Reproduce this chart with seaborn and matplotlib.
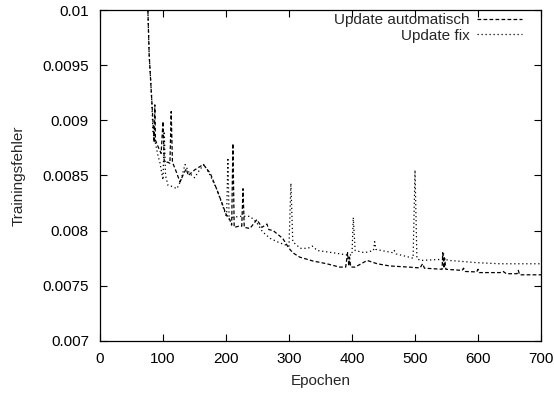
import numpy as np
import pandas as pd
import matplotlib
matplotlib.use("Agg")
import matplotlib.pyplot as plt
import seaborn as sns

# ---- data ----
auto_epochs = [75, 78, 82, 84, 86, 87, 88, 93, 97, 100, 102, 108, 111, 113, 115, 120, 127, 133, 137,
               140, 150, 164, 175, 185, 193, 200, 206, 209, 211, 213, 220, 225, 227, 229, 238, 249,
               257, 265, 268, 275, 290, 300, 306, 317, 338, 360, 380, 390, 393, 395, 396, 398, 405,
               424, 440, 460, 490, 508, 512, 515, 543, 544, 546, 547, 549, 575, 577, 580, 598, 600,
               602, 635, 640, 645, 662, 664, 666, 700]
auto_values = [0.0102, 0.0096, 0.0092, 0.0090, 0.0088, 0.00914, 0.00882, 0.00875, 0.0087, 0.00899,
               0.00862, 0.00862, 0.00861, 0.00908, 0.00862, 0.00855, 0.00844, 0.00852, 0.00856,
               0.0085, 0.00855, 0.0086, 0.00852, 0.00838, 0.00826, 0.00815, 0.0081, 0.00805, 0.00879,
               0.00803, 0.00804, 0.00804, 0.00838, 0.00803, 0.00802, 0.0081, 0.00803, 0.00806,
               0.00801, 0.008, 0.00793, 0.00784, 0.0078, 0.00776, 0.007725, 0.0077, 0.00767, 0.00767,
               0.0078, 0.00768, 0.00776, 0.00767, 0.00767, 0.00773, 0.0077, 0.00768, 0.00767,
               0.007662, 0.0077, 0.00766, 0.00765, 0.0078, 0.00766, 0.00775, 0.00765, 0.00764,
               0.00766, 0.00763, 0.007626, 0.00765, 0.00762, 0.00762, 0.00763, 0.00761, 0.00761,
               0.00764, 0.0076, 0.0076]

fix_epochs = [75, 78, 82, 84, 87, 92, 95, 100, 102, 104, 108, 115, 122, 128, 135, 142, 150, 158, 165,
              175, 185, 195, 201, 203, 205, 210, 222, 238, 248, 258, 270, 285, 300, 303, 306, 318,
              330, 337, 345, 370, 392, 400, 402, 405, 420, 434, 436, 438, 465, 467, 470, 497, 500,
              503, 508, 544, 545, 547, 555, 598, 635, 700]
fix_values = [0.0102, 0.0096, 0.0092, 0.00889, 0.00882, 0.00868, 0.00862, 0.00846, 0.0089, 0.0085,
              0.00841, 0.0084, 0.00838, 0.00845, 0.0086, 0.00852, 0.00848, 0.00855, 0.0086, 0.0085,
              0.00838, 0.00822, 0.00812, 0.00866, 0.0081, 0.00812, 0.00813, 0.00813, 0.00808,
              0.00799, 0.00793, 0.00789, 0.00786, 0.00843, 0.0079, 0.00784, 0.00784, 0.00786,
              0.00782, 0.0078, 0.00778, 0.00778, 0.00812, 0.00782, 0.0078, 0.00782, 0.0079, 0.00783,
              0.0078, 0.00782, 0.00779, 0.00775, 0.00855, 0.00775, 0.00773, 0.00774, 0.0078,
              0.00774, 0.00773, 0.00771, 0.0077, 0.0077]

series_labels = ["Update automatisch", "Update fix"]
x_ticks = [0, 100, 200, 300, 400, 500, 600, 700]
y_ticks = [0.007, 0.0075, 0.008, 0.0085, 0.009, 0.0095, 0.01]
y_tick_labels = ["0.007", "0.0075", "0.008", "0.0085", "0.009", "0.0095", "0.01"]

# ---- style ----
sns.set_theme(style="ticks")
plt.rcParams["font.family"] = ["Liberation Sans", "DejaVu Sans"]
plt.rcParams["font.size"] = 11

fig = plt.figure(figsize=(5.54, 3.93), dpi=100)
ax = fig.add_axes([100 / 554, 1 - 341 / 393, 441 / 554, 331 / 393])

df_auto = pd.DataFrame({"Epochen": auto_epochs, "Fehler": auto_values})
df_fix = pd.DataFrame({"Epochen": fix_epochs, "Fehler": fix_values})

sns.lineplot(data=df_auto, x="Epochen", y="Fehler", ax=ax, color="black", linewidth=0.9,
             linestyle=(0, (3.0, 1.8)), estimator=None, sort=False, label=series_labels[0])
sns.lineplot(data=df_fix, x="Epochen", y="Fehler", ax=ax, color="black", linewidth=0.9,
             linestyle=(0, (1.0, 2.2)), estimator=None, sort=False, label=series_labels[1])

ax.set_xlim(0, 700)
ax.set_ylim(0.007, 0.01)
ax.set_xticks(x_ticks)
ax.set_xticklabels([str(t) for t in x_ticks])
ax.set_yticks(y_ticks)
ax.set_yticklabels(y_tick_labels)
ax.tick_params(direction="in", top=True, right=True, length=5, width=0.8,
               labelsize=11, colors="black")
ax.tick_params(axis="x", pad=8)
ax.tick_params(axis="y", pad=8)
for s in ax.spines.values():
    s.set_visible(True)
    s.set_color("black")
    s.set_linewidth(0.9)

ax.set_xlabel("Epochen", fontsize=11, labelpad=6)
ax.set_ylabel("Trainingsfehler", fontsize=11, labelpad=12)

leg = ax.legend(loc="upper right", bbox_to_anchor=(0.957, 0.99), frameon=False,
                markerfirst=False, handlelength=2.95, handletextpad=0.5,
                labelspacing=0.1, borderpad=0, borderaxespad=0, fontsize=11)

fig.savefig("out.png", dpi=100)
